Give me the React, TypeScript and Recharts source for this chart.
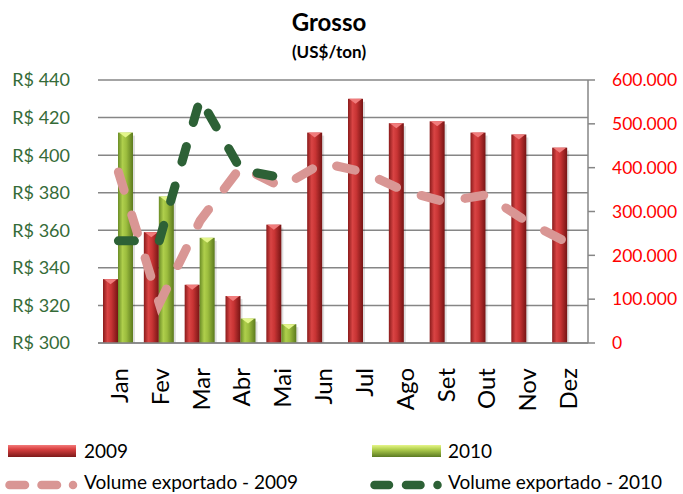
import { ComposedChart, Bar, Line, XAxis, YAxis, CartesianGrid } from "recharts";

const months = ["Jan", "Fev", "Mar", "Abr", "Mai", "Jun", "Jul", "Ago", "Set", "Out", "Nov", "Dez"];
const preco2009 = [334, 359, 331, 325, 363, 412, 430, 417, 418, 412, 411, 404];
const preco2010 = [412, 378, 356, 313, 310, null, null, null, null, null, null, null];
const volume2009 = [390000, 90000, 279000, 402000, 356000, 411000, 390000, 347000, 322000, 338000, 277000, 229000];
const volume2010 = [233000, 233000, 557000, 395000, 377000, null, null, null, null, null, null, null];
const leftTicks = [300, 320, 340, 360, 380, 400, 420, 440];
const rightTicks = [0, 100000, 200000, 300000, 400000, 500000, 600000];

const data = months.map((m, i) => ({
  month: m,
  p2009: preco2009[i],
  p2010: preco2010[i],
  v2009: volume2009[i],
  v2010: volume2010[i],
}));

const FONT = "Lato, 'Open Sans', sans-serif";
const GRID = "#868686";

const fmtThousands = (v: number) => String(v).replace(/\B(?=(\d{3})+(?!\d))/g, ".");

function CylBar(props: any) {
  const { x, y, width, height, gradId, capColor } = props;
  if (!height || height <= 0) return null;
  const capH = Math.min(5, height);
  return (
    <g>
      <rect x={x + 2} y={y + 3} width={width} height={height - 2} fill="rgba(0,0,0,0.13)" />
      <rect x={x} y={y} width={width} height={height} fill={`url(#${gradId})`} />
      <polygon points={`${x + 1},${y} ${x + width - 1},${y} ${x + width / 2},${y + capH}`} fill={capColor} />
    </g>
  );
}

function MonthTick(props: any) {
  const { x, y, payload } = props;
  return (
    <text
      x={x}
      y={y}
      transform={`rotate(-90, ${x}, ${y})`}
      textAnchor="end"
      dominantBaseline="central"
      fontFamily={FONT}
      fontSize={24}
      fill="#000"
    >
      {payload.value}
    </text>
  );
}

function Overlay() {
  return (
    <svg width={683} height={494} style={{ position: "absolute", left: 0, top: 0, pointerEvents: "none" }}>
      <defs>
        <linearGradient id="lgRed" x1="0" y1="0" x2="0" y2="1">
          <stop offset="0" stopColor="#f37b7b" />
          <stop offset="0.35" stopColor="#d94040" />
          <stop offset="1" stopColor="#7e1a1a" />
        </linearGradient>
        <linearGradient id="lgGreen" x1="0" y1="0" x2="0" y2="1">
          <stop offset="0" stopColor="#e6f58a" />
          <stop offset="0.35" stopColor="#b3d14f" />
          <stop offset="1" stopColor="#5b7a22" />
        </linearGradient>
      </defs>
      <text x={329} y={31} textAnchor="middle" fontFamily={FONT} fontWeight={700} fontSize={24} fill="#000">
        Grosso
      </text>
      <text x={329} y={58} textAnchor="middle" fontFamily={FONT} fontWeight={700} fontSize={17} fill="#000">
        (US$/ton)
      </text>

      <rect x={8} y={445} width={68} height={12} fill="url(#lgRed)" />
      <text x={84} y={458} fontFamily={FONT} fontSize={19} fill="#000">2009</text>
      <rect x={372} y={445} width={69} height={12} fill="url(#lgGreen)" />
      <text x={448} y={458} fontFamily={FONT} fontSize={19} fill="#000">2010</text>

      <path d="M9.5 485 H75" stroke="#d99694" strokeWidth={8.5} strokeLinecap="round" strokeDasharray="15.5 16.5 15.5 16 0.01 100" />
      <text x={84} y={489} fontFamily={FONT} fontSize={19} fill="#000">Volume exportado - 2009</text>
      <path d="M374.5 485 H440" stroke="#2d6136" strokeWidth={8.5} strokeLinecap="round" strokeDasharray="14.5 17 14.5 17 0.01 100" />
      <text x={448} y={489} fontFamily={FONT} fontSize={19} fill="#000">Volume exportado - 2010</text>
    </svg>
  );
}

export default function App() {
  return (
    <div style={{ position: "absolute", left: 0, top: 0, width: 683, height: 494, background: "#fff" }}>
      <ComposedChart
        width={683}
        height={494}
        data={data}
        margin={{ top: 80, right: 0, bottom: 81, left: 0 }}
        barGap={0}
        barCategoryGap={5}
      >
        <defs>
          <linearGradient id="gRed" x1="0" y1="0" x2="1" y2="0">
            <stop offset="0" stopColor="#8a1b1b" />
            <stop offset="0.3" stopColor="#d94444" />
            <stop offset="0.55" stopColor="#c83434" />
            <stop offset="1" stopColor="#761414" />
          </linearGradient>
          <linearGradient id="gGreen" x1="0" y1="0" x2="1" y2="0">
            <stop offset="0" stopColor="#6a8c26" />
            <stop offset="0.3" stopColor="#afcf4c" />
            <stop offset="0.55" stopColor="#9cbd3e" />
            <stop offset="1" stopColor="#5c7a1e" />
          </linearGradient>
        </defs>
        <CartesianGrid yAxisId="left" vertical={false} stroke={GRID} strokeWidth={1.5} />
        <XAxis
          dataKey="month"
          axisLine={{ stroke: GRID, strokeWidth: 1.5 }}
          tickLine={false}
          tickSize={0}
          tickMargin={25}
          height={70}
          interval={0}
          tick={<MonthTick />}
        />
        <YAxis
          yAxisId="left"
          domain={[300, 440]}
          ticks={leftTicks}
          tickFormatter={(v: number) => `R$ ${v}`}
          axisLine={false}
          tickLine={false}
          tickSize={0}
          tickMargin={28}
          width={98}
          tick={{ fill: "#356b38", fontSize: 18, fontFamily: FONT }}
          allowDataOverflow
        />
        <YAxis
          yAxisId="right"
          orientation="right"
          domain={[0, 600000]}
          ticks={rightTicks}
          tickFormatter={fmtThousands}
          axisLine={{ stroke: GRID, strokeWidth: 1.5 }}
          tickLine={{ stroke: GRID, strokeWidth: 1.5 }}
          tickSize={7}
          tickMargin={17}
          width={95}
          tick={{ fill: "#ff0000", fontSize: 17.5, fontFamily: FONT, textAnchor: "start" }}
        />
        <Bar
          yAxisId="left"
          dataKey="p2009"
          barSize={15}
          isAnimationActive={false}
          shape={(p: any) => <CylBar {...p} gradId="gRed" capColor="#f07c7c" />}
        />
        <Bar
          yAxisId="left"
          dataKey="p2010"
          barSize={15}
          isAnimationActive={false}
          shape={(p: any) => <CylBar {...p} gradId="gGreen" capColor="#e3f58a" />}
        />
        <Line
          yAxisId="right"
          dataKey="v2009"
          type="linear"
          stroke="#d99694"
          strokeWidth={9}
          strokeLinecap="round"
          strokeDasharray="19 26"
          dot={false}
          activeDot={false}
          isAnimationActive={false}
        />
        <Line
          yAxisId="right"
          dataKey="v2010"
          type="linear"
          stroke="#2d6136"
          strokeWidth={9}
          strokeLinecap="round"
          strokeDasharray="16 25"
          dot={false}
          activeDot={false}
          isAnimationActive={false}
        />
      </ComposedChart>
      <Overlay />
    </div>
  );
}
